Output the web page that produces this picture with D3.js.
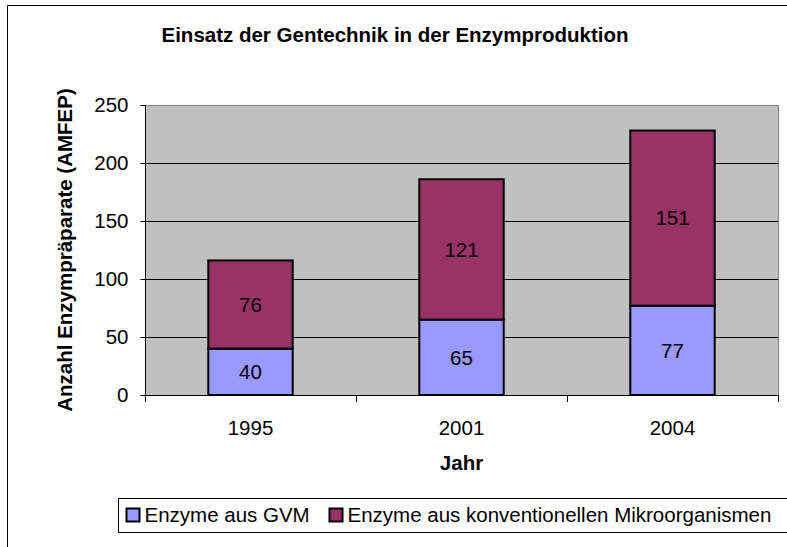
<!DOCTYPE html>
<html lang="de">
<head>
<meta charset="utf-8" />
<title>Einsatz der Gentechnik in der Enzymproduktion</title>
<script src="https://d3js.org/d3.v7.min.js"></script>
<style>
  body { margin: 0; background: #fff; }
  text { font-family: "Liberation Sans", Arial, sans-serif; }
</style>
</head>
<body>
<script>
// data
var years = ["1995", "2001", "2004"];
var gvm = [40, 65, 77];
var konv = [76, 121, 151];
var seriesNames = ["Enzyme aus GVM", "Enzyme aus konventionellen Mikroorganismen"];
var seriesColors = ["#9999FF", "#993366"];
var yTicks = [0, 50, 100, 150, 200, 250];

var width = 787, height = 547;
var plot = { left: 145, top: 105, right: 778, bottom: 395 };
var fs = 20.5;

var svg = d3.select("body").append("svg")
  .attr("width", width)
  .attr("height", height);

// outer chart frame
svg.append("rect")
  .attr("x", 7.5).attr("y", 5.5)
  .attr("width", 800).attr("height", 600)
  .attr("fill", "#fff")
  .attr("stroke", "#000")
  .attr("stroke-width", 1);

var x = d3.scaleBand()
  .domain(years)
  .range([plot.left, plot.right]);

var y = d3.scaleLinear()
  .domain([0, 250])
  .range([plot.bottom, plot.top]);

// plot background
svg.append("rect")
  .attr("x", plot.left + 0.5).attr("y", plot.top + 0.5)
  .attr("width", plot.right - plot.left)
  .attr("height", plot.bottom - plot.top)
  .attr("fill", "#C0C0C0")
  .attr("stroke", "#808080")
  .attr("stroke-width", 1);

// gridlines
svg.append("g")
  .selectAll("line")
  .data(yTicks.filter(function (d) { return d > 0 && d < 250; }))
  .enter().append("line")
  .attr("x1", plot.left).attr("x2", plot.right)
  .attr("y1", function (d) { return Math.round(y(d)) + 0.5; })
  .attr("y2", function (d) { return Math.round(y(d)) + 0.5; })
  .attr("stroke", "#000")
  .attr("stroke-width", 1);

// stacked data
var rows = years.map(function (yr, i) {
  return { year: yr, gvm: gvm[i], konv: konv[i] };
});
var stack = d3.stack().keys(["gvm", "konv"]);
var layers = stack(rows);

var layer = svg.append("g").selectAll("g")
  .data(layers)
  .enter().append("g")
  .attr("fill", function (d, i) { return seriesColors[i]; });

// gap width 150% like Excel: bar = band / 2.5
layer.selectAll("rect")
  .data(function (d) { return d; })
  .enter().append("rect")
  .attr("x", function (d) { return x(d.data.year) + x.bandwidth() * 0.3; })
  .attr("width", x.bandwidth() * 0.4)
  .attr("y", function (d) { return y(d[1]); })
  .attr("height", function (d) { return y(d[0]) - y(d[1]); })
  .attr("stroke", "#000")
  .attr("stroke-width", 2);

layer.selectAll("text")
  .data(function (d) { return d; })
  .enter().append("text")
  .attr("x", function (d) { return x(d.data.year) + x.bandwidth() / 2; })
  .attr("y", function (d) { return (y(d[0]) + y(d[1])) / 2; })
  .attr("dy", "0.36em")
  .attr("text-anchor", "middle")
  .attr("font-size", fs)
  .attr("fill", "#000")
  .text(function (d) { return d[1] - d[0]; });

// y axis
var yAxis = d3.axisLeft(y)
  .tickValues(yTicks)
  .tickSize(5)
  .tickPadding(12);
var gy = svg.append("g")
  .attr("transform", "translate(" + (plot.left + 0.5) + ",0)")
  .call(yAxis);
gy.select(".domain").attr("d", "M0," + plot.top + "V" + (plot.bottom + 7));
gy.selectAll("text").attr("font-size", fs).attr("font-family", "Liberation Sans, Arial, sans-serif").attr("fill", "#000");
gy.selectAll("line, path").attr("stroke", "#000");

// x axis
var xAxis = d3.axisBottom(x).tickSize(0).tickPadding(0);
var gx = svg.append("g")
  .attr("transform", "translate(0," + plot.bottom + ")")
  .call(xAxis);
gx.select(".domain").attr("stroke", "#000").attr("d", "M" + plot.left + ",0.5H" + plot.right);
gx.selectAll("text")
  .attr("dy", null).attr("y", 40)
  .attr("font-size", fs).attr("font-family", "Liberation Sans, Arial, sans-serif").attr("fill", "#000");

// category separators on x axis
gx.selectAll(".sep")
  .data([1, 2, 3])
  .enter().append("line")
  .attr("x1", function (d) { return Math.round(plot.left + d * x.step()) + 0.5; })
  .attr("x2", function (d) { return Math.round(plot.left + d * x.step()) + 0.5; })
  .attr("y1", 0).attr("y2", 7)
  .attr("stroke", "#000");

// titles
svg.append("text")
  .attr("x", 395).attr("y", 42)
  .attr("text-anchor", "middle")
  .attr("font-size", fs).attr("font-weight", "bold")
  .text("Einsatz der Gentechnik in der Enzymproduktion");

svg.append("text")
  .attr("x", (plot.left + plot.right) / 2).attr("y", 470)
  .attr("text-anchor", "middle")
  .attr("font-size", fs).attr("font-weight", "bold")
  .text("Jahr");

svg.append("text")
  .attr("transform", "translate(72," + ((plot.top + plot.bottom) / 2) + ") rotate(-90)")
  .attr("text-anchor", "middle")
  .attr("font-size", fs).attr("font-weight", "bold")
  .text("Anzahl Enzympräparate (AMFEP)");

// legend
var legend = svg.append("g").attr("transform", "translate(118.5,498.5)");
legend.append("rect")
  .attr("width", 700).attr("height", 34)
  .attr("fill", "#fff").attr("stroke", "#000");

var legX = [7, 210];
var item = legend.selectAll(".item")
  .data(seriesNames)
  .enter().append("g")
  .attr("class", "item")
  .attr("transform", function (d, i) { return "translate(" + legX[i] + ",0)"; });
item.append("rect")
  .attr("x", 1).attr("y", 10)
  .attr("width", 13).attr("height", 13)
  .attr("fill", function (d, i) { return seriesColors[i]; })
  .attr("stroke", "#000").attr("stroke-width", 2);
item.append("text")
  .attr("x", 19).attr("y", 23.5)
  .attr("font-size", fs)
  .text(function (d) { return d; });
</script>
</body>
</html>
